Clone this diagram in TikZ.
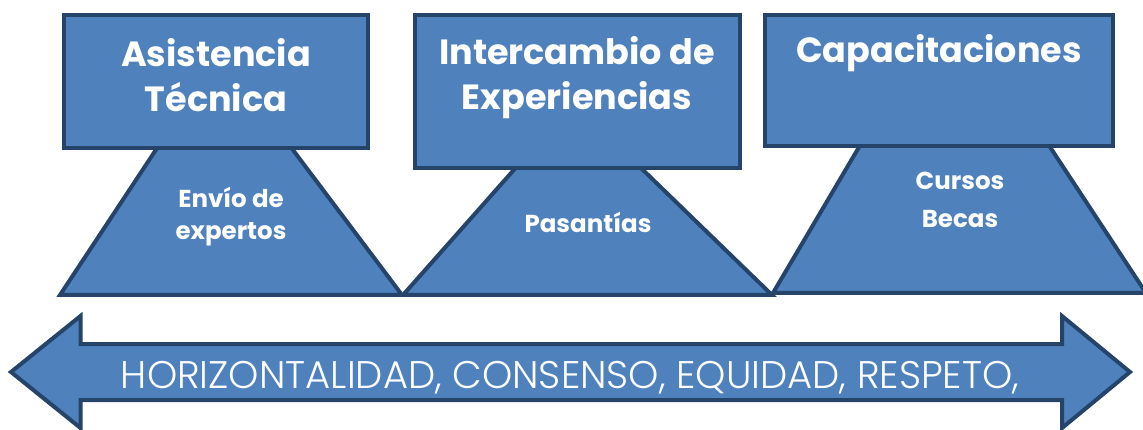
\documentclass[tikz,border=0pt]{standalone}
\usepackage{fontspec}
\setmainfont{Poppins}
\newfontfamily\lightfont{Poppins Light}
\definecolor{fillblue}{HTML}{4F81BD}
\definecolor{edgeblue}{HTML}{26446A}
\tikzset{
  shapefill/.style={fill=fillblue, draw=edgeblue, line width=4pt, line join=miter},
  boxnode/.style={shapefill, rectangle, inner sep=0pt},
  bigtext/.style={text=white, font=\fontsize{35}{35}\selectfont\bfseries, anchor=base, inner sep=0pt},
  smalltext/.style={text=white, font=\fontsize{24.5}{24.5}\selectfont\bfseries, anchor=base, inner sep=0pt},
  arrowtext/.style={text=white, font=\fontsize{38.5}{38.5}\selectfont\lightfont, anchor=base, inner sep=0pt}
}
\begin{document}
\begin{tikzpicture}[x=1pt,y=-1pt]
\useasboundingbox (0,0) rectangle (1143,430);
\clip (0,0) rectangle (1143,430);
% trapezoids
\path[shapefill] (60,295) -- (162.4,140) -- (285.5,140) -- (402,295) -- cycle;
\path[shapefill] (403,295) -- (522.6,160) -- (632.7,160) -- (772,295) -- cycle;
\path[shapefill] (773,293) -- (863.2,140) -- (1045.4,140) -- (1146,293) -- cycle;
% boxes
\node[boxnode, minimum width=304pt, minimum height=133pt] (b1) at (216,81.5) {};
\node[boxnode, minimum width=325pt, minimum height=153pt] (b2) at (577.5,91.5) {};
\node[boxnode, minimum width=348pt, minimum height=131pt] (b3) at (939,80.5) {};
% box texts
\node[bigtext] (t1a) at (216,67) {Asistencia};
\node[bigtext] (t1b) at (216,112) {Técnica};
\node[bigtext] (t2a) at (577,65) {Intercambio de};
\node[bigtext] (t2b) at (577,110) {Experiencias};
\node[bigtext] (t3a) at (939,63) {Capacitaciones};
% trapezoid texts
\node[smalltext] (s1a) at (231,208) {Envío de};
\node[smalltext] (s1b) at (231,240) {expertos};
\node[smalltext] (s2a) at (588,233) {Pasantías};
\node[smalltext] (s3a) at (960,190) {Cursos};
\node[smalltext] (s3b) at (960,228) {Becas};
% double arrow
\path[shapefill] (11,372) -- (80.5,316) -- (80.5,344) -- (1062,344) -- (1062,316) -- (1130,372)
  -- (1062,428) -- (1062,400) -- (80.5,400) -- (80.5,428) -- cycle;
\node[arrowtext] (at) at (570,388) {HORIZONTALIDAD, CONSENSO, EQUIDAD, RESPETO,};
\end{tikzpicture}
\end{document}
